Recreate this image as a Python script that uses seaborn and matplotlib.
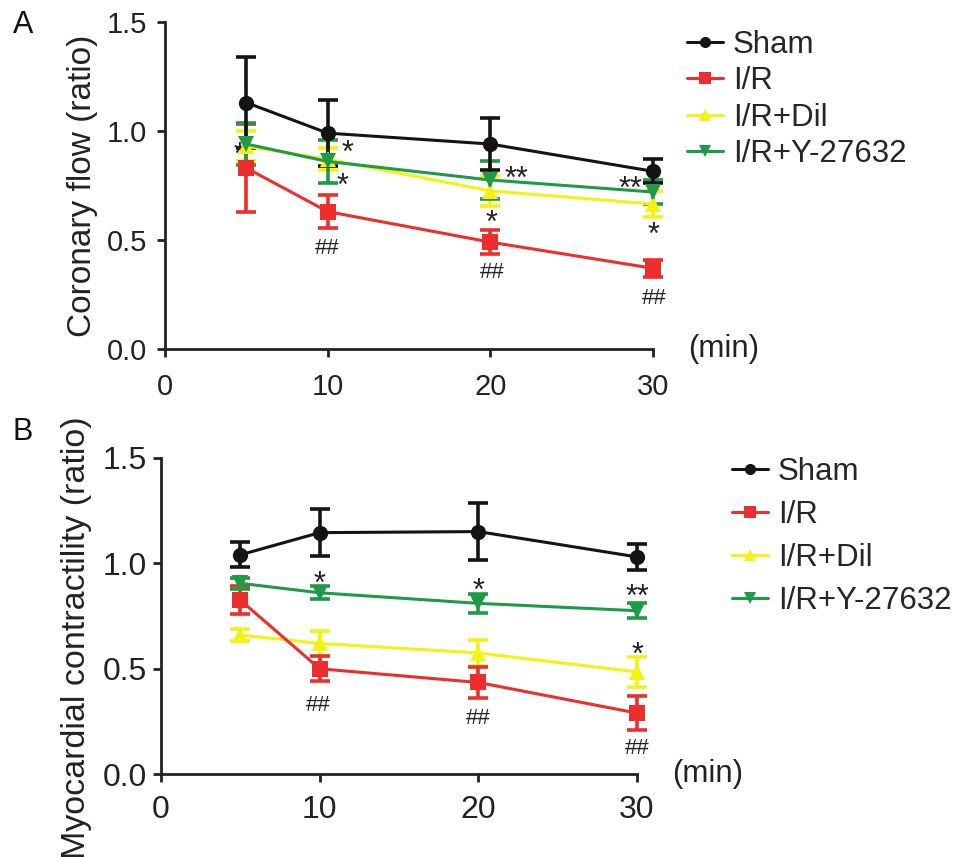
import numpy as np
import pandas as pd
import matplotlib
matplotlib.use("Agg")
import matplotlib.pyplot as plt
import seaborn as sns

# ---- data ----
time = [5, 10, 20, 30]
groups = ["Sham", "I/R", "I/R+Dil", "I/R+Y-27632"]

# panel A: coronary flow
cf_sham = [1.13, 0.99, 0.94, 0.815]
cf_sham_err = [0.21, 0.15, 0.12, 0.055]
cf_ir = [0.83, 0.63, 0.49, 0.37]
cf_ir_err = [0.20, 0.075, 0.055, 0.04]
cf_dil = [0.93, 0.87, 0.725, 0.665]
cf_dil_err = [0.07, 0.05, 0.07, 0.06]
cf_y = [0.94, 0.86, 0.775, 0.72]
cf_y_err = [0.095, 0.10, 0.085, 0.055]

# panel B: myocardial contractility
mc_sham = [1.04, 1.145, 1.15, 1.03]
mc_sham_err = [0.06, 0.11, 0.135, 0.06]
mc_ir = [0.825, 0.50, 0.435, 0.29]
mc_ir_err = [0.065, 0.06, 0.075, 0.08]
mc_dil = [0.66, 0.62, 0.575, 0.485]
mc_dil_err = [0.03, 0.06, 0.06, 0.07]
mc_y = [0.905, 0.86, 0.81, 0.775]
mc_y_err = [0.025, 0.03, 0.045, 0.035]

# significance marks (centre of each mark)
a_marks = ["*", "*", "*", "**", "*", "**", "*", "##", "##", "##"]
a_mark_x = [4.6, 11.2, 10.9, 21.6, 20.1, 28.6, 30.0, 10.0, 20.1, 30.1]
a_mark_y = [0.93, 0.94, 0.79, 0.82, 0.62, 0.775, 0.565, 0.47, 0.36, 0.24]
b_marks = ["*", "*", "**", "*", "##", "##", "##"]
b_mark_x = [10.0, 20.0, 30.0, 30.0, 9.9, 20.0, 30.0]
b_mark_y = [0.945, 0.91, 0.88, 0.605, 0.336, 0.273, 0.131]

colors = {"Sham": "#141414", "I/R": "#ec2f2c", "I/R+Dil": "#f4f214", "I/R+Y-27632": "#1f9a48"}
markers = {"Sham": "o", "I/R": "s", "I/R+Dil": "^", "I/R+Y-27632": "v"}
draw_order = ["I/R+Dil", "I/R", "I/R+Y-27632", "Sham"]

sns.set_theme(style="ticks")
plt.rcParams["font.family"] = ["Liberation Sans", "DejaVu Sans"]
plt.rcParams["axes.linewidth"] = 2.0
plt.rcParams["xtick.major.width"] = 2.0
plt.rcParams["ytick.major.width"] = 2.0
plt.rcParams["xtick.major.size"] = 6
plt.rcParams["ytick.major.size"] = 6
plt.rcParams["axes.edgecolor"] = "#222222"


def make_df(means, errs):
    rows = []
    for g, m, e in zip(groups, means, errs):
        for t, v, s in zip(time, m, e):
            rows.append({"time": t, "value": v, "err": s, "group": g})
    return pd.DataFrame(rows)


df_a = make_df([cf_sham, cf_ir, cf_dil, cf_y], [cf_sham_err, cf_ir_err, cf_dil_err, cf_y_err])
df_b = make_df([mc_sham, mc_ir, mc_dil, mc_y], [mc_sham_err, mc_ir_err, mc_dil_err, mc_y_err])

fig = plt.figure(figsize=(9.69, 8.57), dpi=100)
ax_a = fig.add_axes([0.1703, 0.5928, 0.5036, 0.3816])
ax_b = fig.add_axes([0.1662, 0.0965, 0.4912, 0.3694])


def draw_panel(ax, df, marks, mx, my, ylabel, opts):
    for g in draw_order:
        sub = df[df["group"] == g]
        c = colors[g]
        ax.errorbar(sub["time"], sub["value"], yerr=sub["err"], fmt="none",
                    ecolor=c, elinewidth=2.6, capsize=7, capthick=2.6,
                    clip_on=False, zorder=3)
        sns.lineplot(data=sub, x="time", y="value", ax=ax, color=c,
                     marker=markers[g], markersize=11, markeredgewidth=0,
                     linewidth=2.2, clip_on=False, zorder=4, legend=False,
                     errorbar=None)
    for t, x, y in zip(marks, mx, my):
        if t.startswith("#"):
            fs, off = 16, 0.35 * 16
        else:
            fs, off = 22, 0.58 * 22
        ax.annotate(t, (x, y), xytext=(0, -off), textcoords="offset points",
                    ha="center", va="baseline", fontsize=fs, color="#222222",
                    annotation_clip=False)

    ax.set_xlim(0, 30)
    ax.set_ylim(0, 1.5)
    ax.set_xticks([0, 10, 20, 30])
    ax.set_yticks([0.0, 0.5, 1.0, 1.5])
    ax.set_yticklabels(["0.0", "0.5", "1.0", "1.5"])
    ax.tick_params(labelsize=opts["tick_fs"], colors="#222222")
    ax.tick_params(axis="x", pad=opts["xpad"])
    ax.tick_params(axis="y", pad=opts["ypad"])
    ax.set_xlabel("")
    ax.set_ylabel(ylabel, fontsize=opts["label_fs"], color="#222222")
    ax.yaxis.set_label_coords(opts["label_x"], opts["label_y"])
    sns.despine(ax=ax)
    ax.text(opts["min_x"], 0.0, "(min)", transform=ax.transAxes, fontsize=22.5,
            ha="left", va="center", color="#222222")

    handles = [plt.Line2D([], [], color=colors[g], marker=markers[g], markersize=8,
                          markeredgewidth=0, linewidth=2.2) for g in groups]
    ax.legend(handles, groups, loc="upper left", bbox_to_anchor=(opts["leg_x"], opts["leg_top"]),
              bbox_transform=fig.transFigure, frameon=False, fontsize=22.5,
              handlelength=1.15, handletextpad=0.32, labelspacing=opts["leg_space"],
              borderpad=0, borderaxespad=0)


draw_panel(ax_a, df_a, a_marks, a_mark_x, a_mark_y, "Coronary flow (ratio)",
           dict(tick_fs=21, xpad=11, ypad=7, label_fs=24, label_x=-0.137, label_y=0.5,
                min_x=1.072, leg_x=0.709, leg_top=0.9655, leg_space=0.21))
draw_panel(ax_b, df_b, b_marks, b_mark_x, b_mark_y, "Myocardial contractility (ratio)",
           dict(tick_fs=23, xpad=9, ypad=4, label_fs=24.5, label_x=-0.145, label_y=0.432,
                min_x=1.074, leg_x=0.7554, leg_top=0.467, leg_space=0.42))

fig.text(0.013, 0.971, "A", fontsize=22, ha="left", va="center", color="#111111")
fig.text(0.013, 0.496, "B", fontsize=22, ha="left", va="center", color="#111111")

fig.savefig("out.png", dpi=100, facecolor="white")
